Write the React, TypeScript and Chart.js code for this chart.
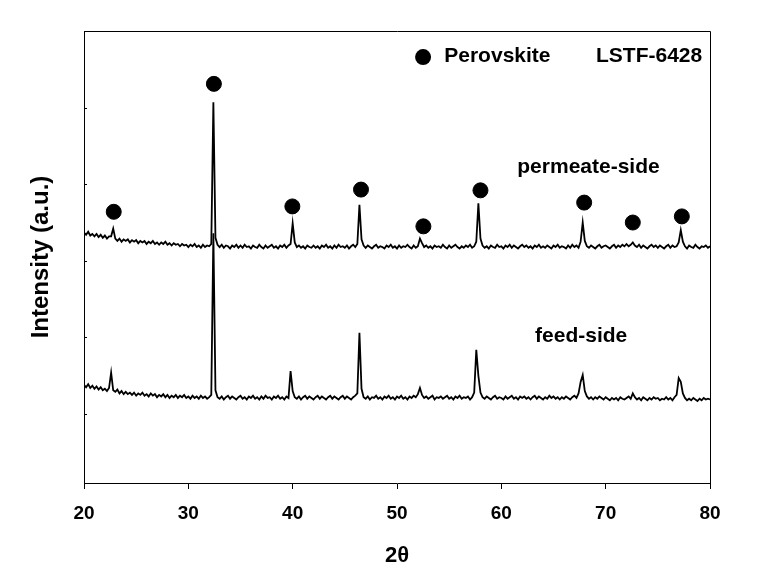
import React, { useEffect, useRef } from "react";
import { Chart, registerables } from "chart.js";

Chart.register(...registerables);

// 2θ measurement grid (degrees)
const twoTheta = [
  20, 20.2, 20.4, 20.6, 20.8, 21, 21.2, 21.4, 21.6, 21.8,
  22, 22.2, 22.4, 22.6, 22.8, 23, 23.2, 23.4, 23.6, 23.8,
  24, 24.2, 24.4, 24.6, 24.8, 25, 25.2, 25.4, 25.6, 25.8,
  26, 26.2, 26.4, 26.6, 26.8, 27, 27.2, 27.4, 27.6, 27.8,
  28, 28.2, 28.4, 28.6, 28.8, 29, 29.2, 29.4, 29.6, 29.8,
  30, 30.2, 30.4, 30.6, 30.8, 31, 31.2, 31.4, 31.6, 31.8,
  32, 32.2, 32.4, 32.6, 32.8, 33, 33.2, 33.4, 33.6, 33.8,
  34, 34.2, 34.4, 34.6, 34.8, 35, 35.2, 35.4, 35.6, 35.8,
  36, 36.2, 36.4, 36.6, 36.8, 37, 37.2, 37.4, 37.6, 37.8,
  38, 38.2, 38.4, 38.6, 38.8, 39, 39.2, 39.4, 39.6, 39.8,
  40, 40.2, 40.4, 40.6, 40.8, 41, 41.2, 41.4, 41.6, 41.8,
  42, 42.2, 42.4, 42.6, 42.8, 43, 43.2, 43.4, 43.6, 43.8,
  44, 44.2, 44.4, 44.6, 44.8, 45, 45.2, 45.4, 45.6, 45.8,
  46, 46.2, 46.4, 46.6, 46.8, 47, 47.2, 47.4, 47.6, 47.8,
  48, 48.2, 48.4, 48.6, 48.8, 49, 49.2, 49.4, 49.6, 49.8,
  50, 50.2, 50.4, 50.6, 50.8, 51, 51.2, 51.4, 51.6, 51.8,
  52, 52.2, 52.4, 52.6, 52.8, 53, 53.2, 53.4, 53.6, 53.8,
  54, 54.2, 54.4, 54.6, 54.8, 55, 55.2, 55.4, 55.6, 55.8,
  56, 56.2, 56.4, 56.6, 56.8, 57, 57.2, 57.4, 57.6, 57.8,
  58, 58.2, 58.4, 58.6, 58.8, 59, 59.2, 59.4, 59.6, 59.8,
  60, 60.2, 60.4, 60.6, 60.8, 61, 61.2, 61.4, 61.6, 61.8,
  62, 62.2, 62.4, 62.6, 62.8, 63, 63.2, 63.4, 63.6, 63.8,
  64, 64.2, 64.4, 64.6, 64.8, 65, 65.2, 65.4, 65.6, 65.8,
  66, 66.2, 66.4, 66.6, 66.8, 67, 67.2, 67.4, 67.6, 67.8,
  68, 68.2, 68.4, 68.6, 68.8, 69, 69.2, 69.4, 69.6, 69.8,
  70, 70.2, 70.4, 70.6, 70.8, 71, 71.2, 71.4, 71.6, 71.8,
  72, 72.2, 72.4, 72.6, 72.8, 73, 73.2, 73.4, 73.6, 73.8,
  74, 74.2, 74.4, 74.6, 74.8, 75, 75.2, 75.4, 75.6, 75.8,
  76, 76.2, 76.4, 76.6, 76.8, 77, 77.2, 77.4, 77.6, 77.8,
  78, 78.2, 78.4, 78.6, 78.8, 79, 79.2, 79.4, 79.6, 79.8,
  80,
];

// permeate-side intensity (offset, a.u.)
const permeateSide = [
  337, 334, 338, 333, 335, 332, 335, 331, 334, 330,
  333, 329, 332, 332, 342, 329, 326, 329, 325, 328,
  326, 328, 324, 327, 325, 327, 323, 326, 324, 326,
  322, 325, 323, 326, 322, 324, 321, 324, 322, 325,
  321, 323, 320, 323, 321, 322, 319, 322, 320, 321,
  318, 321, 319, 322, 318, 320, 317, 321, 318, 320,
  319, 322, 507, 330, 321, 318, 321, 317, 320, 319,
  316, 320, 318, 321, 317, 320, 317, 321, 318, 319,
  316, 320, 318, 317, 321, 318, 316, 320, 317, 319,
  321, 317, 319, 316, 320, 318, 321, 317, 320, 322,
  349, 324, 318, 320, 317, 319, 316, 320, 318, 317,
  320, 317, 319, 316, 320, 318, 321, 317, 319, 316,
  320, 317, 321, 318, 319, 317, 320, 316, 319, 321,
  318, 322, 373, 328, 320, 317, 320, 318, 316, 319,
  321, 317, 319, 318, 316, 320, 318, 321, 317, 319,
  316, 320, 317, 319, 318, 321, 318, 316, 320, 317,
  319, 329, 323, 318, 320, 317, 319, 316, 320, 318,
  319, 317, 321, 318, 316, 320, 317, 319, 321, 318,
  316, 319, 317, 320, 318, 321, 317, 319, 325, 375,
  329, 320, 317, 319, 316, 320, 318, 317, 321, 318,
  319, 316, 320, 318, 321, 317, 320, 318, 316, 319,
  321, 318, 320, 317, 319, 316, 320, 318, 321, 317,
  319, 317, 320, 318, 316, 320, 318, 321, 317, 319,
  318, 316, 320, 317, 321, 318, 320, 317, 325, 350,
  326, 319, 317, 320, 318, 316, 319, 321, 317, 319,
  320, 318, 316, 319, 321, 317, 320, 318, 321, 319,
  322, 319, 321, 324, 320, 318, 321, 317, 320, 318,
  316, 319, 321, 318, 320, 317, 320, 318, 316, 319,
  321, 317, 320, 318, 319, 324, 340, 325, 319, 316,
  320, 318, 317, 321, 318, 316, 319, 318, 320, 317,
  319,
];

// feed-side intensity (a.u.)
const feedSide = [
  138, 135, 139, 134, 137, 133, 136, 132, 135, 131,
  133, 130, 134, 154, 131, 129, 132, 127, 130, 126,
  129, 126, 128, 125, 128, 124, 127, 125, 128, 124,
  126, 123, 127, 124, 126, 122, 125, 123, 126, 122,
  125, 121, 124, 122, 125, 121, 124, 122, 125, 121,
  123, 120, 124, 121, 123, 120, 124, 121, 123, 120,
  122, 125, 336, 131, 122, 120, 123, 119, 122, 124,
  120, 123, 121, 119, 122, 124, 120, 122, 119, 123,
  121, 124, 120, 122, 119, 123, 120, 124, 121, 122,
  119, 123, 121, 124, 120, 122, 119, 123, 121, 156,
  130, 122, 120, 123, 119, 122, 124, 120, 123, 121,
  119, 122, 124, 120, 123, 121, 119, 122, 124, 120,
  123, 121, 119, 122, 124, 120, 123, 121, 119, 122,
  124, 127, 206, 133, 122, 120, 123, 119, 122, 121,
  124, 120, 122, 119, 123, 121, 124, 120, 122, 119,
  123, 121, 124, 120, 122, 119, 123, 121, 124, 122,
  126, 134, 125, 121, 123, 120, 122, 124, 119, 122,
  121, 123, 120, 122, 124, 120, 122, 119, 123, 121,
  124, 120, 122, 121, 123, 119, 122, 128, 184, 150,
  128, 122, 120, 123, 121, 119, 122, 124, 120, 122,
  121, 119, 123, 120, 122, 124, 120, 122, 119, 123,
  121, 123, 120, 122, 119, 122, 124, 120, 123, 121,
  119, 122, 120, 124, 121, 123, 120, 122, 119, 122,
  120, 123, 121, 119, 122, 124, 121, 127, 142, 151,
  130, 123, 120, 122, 119, 122, 120, 123, 121, 119,
  122, 120, 118, 121, 119, 121, 118, 122, 120, 119,
  121, 123, 120, 127, 122, 119, 121, 118, 122, 120,
  118, 121, 119, 122, 120, 121, 118, 120, 119, 122,
  119, 121, 118, 122, 125, 147, 142, 127, 121, 118,
  120, 118, 121, 119, 117, 120, 118, 121, 119, 120,
  119,
];

// Perovskite peak markers
const markerTwoTheta = [22.85, 32.45, 39.97, 46.55, 52.53, 58.0, 67.94, 72.6, 77.3];
const markerIntensity = [364, 531, 371, 393, 345, 392, 376, 350, 358];

const yTicks = [100, 200, 300, 400, 500];

const FONT = "'Liberation Sans', Arial, Helvetica, sans-serif";

const decorPlugin = {
  id: "decor",
  afterDraw(chart: any) {
    const { ctx, chartArea, scales } = chart;
    const xs = scales.x;
    const ys = scales.y;
    ctx.save();
    ctx.strokeStyle = "#000";
    ctx.lineWidth = 1;
    // top and right frame
    ctx.beginPath();
    ctx.moveTo(chartArea.left, chartArea.top + 0.5);
    ctx.lineTo(chartArea.right + 0.5, chartArea.top + 0.5);
    ctx.lineTo(chartArea.right + 0.5, chartArea.bottom);
    ctx.stroke();
    // inward y ticks
    ctx.beginPath();
    for (const v of yTicks) {
      const py = Math.round(ys.getPixelForValue(v)) + 0.5;
      ctx.moveTo(chartArea.left, py);
      ctx.lineTo(chartArea.left + 3, py);
    }
    ctx.stroke();
    // legend dot
    ctx.fillStyle = "#000";
    ctx.beginPath();
    ctx.arc(xs.getPixelForValue(52.5), ys.getPixelForValue(566), 8, 0, Math.PI * 2);
    ctx.fill();
    // texts
    ctx.font = `bold 21px ${FONT}`;
    ctx.textBaseline = "alphabetic";
    ctx.textAlign = "left";
    ctx.fillText("Perovskite", xs.getPixelForValue(54.53), ys.getPixelForValue(559));
    ctx.fillText("LSTF-6428", xs.getPixelForValue(69.07), ys.getPixelForValue(559));
    ctx.fillText("permeate-side", xs.getPixelForValue(61.53), ys.getPixelForValue(414));
    ctx.fillText("feed-side", xs.getPixelForValue(63.23), ys.getPixelForValue(194));
    ctx.restore();
  },
};

export default function App() {
  const ref = useRef<HTMLCanvasElement | null>(null);
  useEffect(() => {
    if (!ref.current) return;
    const chart = new Chart(ref.current, {
      type: "line",
      data: {
        datasets: [
          {
            label: "permeate-side",
            data: twoTheta.map((x, i) => ({ x, y: permeateSide[i] })),
            borderColor: "#000",
            borderWidth: 1.8,
            pointRadius: 0,
            tension: 0,
          },
          {
            label: "feed-side",
            data: twoTheta.map((x, i) => ({ x, y: feedSide[i] })),
            borderColor: "#000",
            borderWidth: 1.8,
            pointRadius: 0,
            tension: 0,
          },
          {
            type: "scatter",
            label: "Perovskite",
            data: markerTwoTheta.map((x, i) => ({ x, y: markerIntensity[i] })),
            backgroundColor: "#000",
            borderColor: "#000",
            pointRadius: 7.5,
            showLine: false,
          } as any,
        ],
      },
      options: {
        responsive: false,
        animation: false,
        layout: { padding: { top: 31, right: 54, left: 0, bottom: 0 } },
        plugins: { legend: { display: false }, tooltip: { enabled: false } },
        scales: {
          x: {
            type: "linear",
            min: 20,
            max: 80,
            afterFit: (s: any) => {
              s.height = 105;
            },
            ticks: {
              stepSize: 10,
              color: "#000",
              padding: 13,
              font: { family: FONT, size: 19, weight: "bold" },
            },
            grid: { drawOnChartArea: false, drawTicks: true, tickLength: 6, color: "#000" },
            border: { display: true, color: "#000", width: 1 },
            title: {
              display: true,
              text: "2θ",
              color: "#000",
              font: { family: FONT, size: 22, weight: "bold" },
              padding: { top: 0, bottom: 19 },
            },
          },
          y: {
            type: "linear",
            min: 10,
            max: 600,
            afterFit: (s: any) => {
              s.width = 84;
            },
            ticks: { display: false },
            grid: { display: false },
            border: { display: true, color: "#000", width: 1 },
            title: {
              display: true,
              text: "Intensity (a.u.)",
              color: "#000",
              font: { family: FONT, size: 24, weight: "bold" },
              padding: { top: 27, bottom: 0 },
            },
          },
        },
      },
      plugins: [decorPlugin],
    });
    return () => chart.destroy();
  }, []);
  return (
    <div style={{ position: "absolute", left: 0, top: 0, width: 764, height: 588, background: "#fff" }}>
      <canvas ref={ref} width={764} height={588} />
    </div>
  );
}
